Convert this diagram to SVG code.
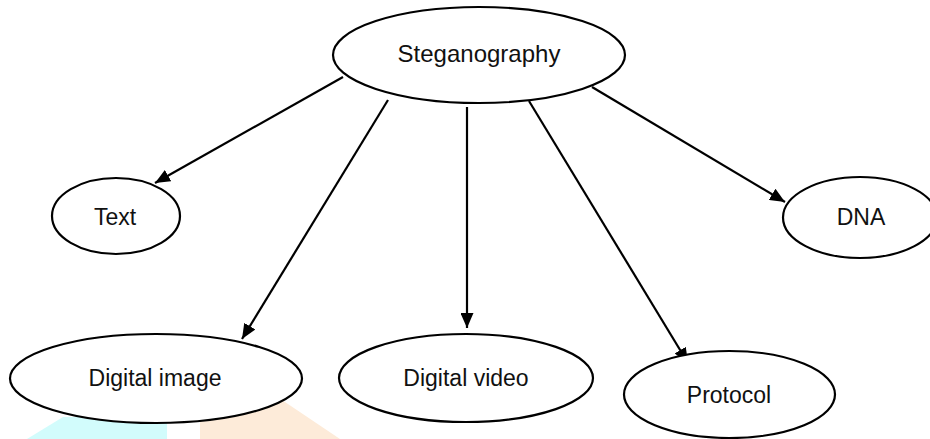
<svg xmlns="http://www.w3.org/2000/svg" width="930" height="439" viewBox="0 0 930 439">
<style>
.n ellipse{fill:#fff;stroke:#000;stroke-width:2.2}
.n text{font-family:"Liberation Sans",Arial,sans-serif;font-size:23px;fill:#111;text-anchor:middle}
.c line{stroke:#000;stroke-width:2.2}
</style>
<defs>
<marker id="ah" viewBox="0 0 15 13" refX="15" refY="6.5" markerWidth="15" markerHeight="13" markerUnits="userSpaceOnUse" orient="auto">
<path d="M0,0 L15,6.5 L0,13 Z" fill="#000"/>
</marker>
</defs>
<rect width="930" height="439" fill="#fff"/>
<g id="bg">
<polygon points="63,417 167,417 167,439 27,439" fill="#d2fcfc"/>
<polygon points="200,405 282,400 340,439 200,439" fill="#fdebd9"/>
</g>
<g class="c" id="connectors">
<line x1="343" y1="77" x2="155" y2="183" marker-end="url(#ah)"/>
<line x1="388" y1="100" x2="242" y2="339" marker-end="url(#ah)"/>
<line x1="467" y1="107" x2="467" y2="328" marker-end="url(#ah)"/>
<line x1="529" y1="101" x2="688" y2="363" marker-end="url(#ah)"/>
<line x1="592" y1="87" x2="785" y2="202" marker-end="url(#ah)"/>
</g>
<g class="n" id="steganography"><ellipse cx="479" cy="55" rx="146" ry="48"/><text x="479" y="62" style="font-size:24px">Steganography</text></g>
<g class="n" id="text"><ellipse cx="116" cy="216" rx="64" ry="38"/><text x="115" y="225">Text</text></g>
<g class="n" id="dna"><ellipse cx="860" cy="217.5" rx="77" ry="40.5"/><text x="861" y="225">DNA</text></g>
<g class="n" id="digital-image"><ellipse cx="156" cy="378.5" rx="146" ry="44.5"/><text x="155" y="386">Digital image</text></g>
<g class="n" id="digital-video"><ellipse cx="466" cy="378" rx="127" ry="44"/><text x="466" y="386">Digital video</text></g>
<g class="n" id="protocol"><ellipse cx="729.5" cy="394.5" rx="105.5" ry="43.5"/><text x="729" y="403">Protocol</text></g>
</svg>
